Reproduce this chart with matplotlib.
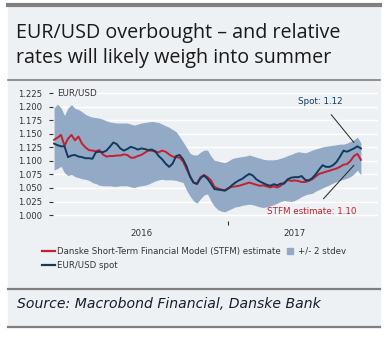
import numpy as np
import pandas as pd
import matplotlib
matplotlib.use("Agg")
import matplotlib.pyplot as plt
import matplotlib.dates as mdates
from matplotlib.lines import Line2D
from matplotlib.patches import Rectangle

# --- data (every 4th day, mid-June 2016 to early June 2017) ---
dates = pd.date_range("2016-06-15", periods=89, freq="4D")

spot = [1.132, 1.129, 1.127, 1.127, 1.107, 1.110, 1.111, 1.108, 1.107, 1.105,
        1.105, 1.104, 1.116, 1.117, 1.116, 1.119, 1.126, 1.134, 1.131, 1.123,
        1.119, 1.122, 1.126, 1.124, 1.121, 1.123, 1.122, 1.120, 1.121, 1.118,
        1.109, 1.103, 1.095, 1.089, 1.095, 1.109, 1.111, 1.103, 1.090, 1.071,
        1.060, 1.058,
        1.068, 1.073, 1.067, 1.058, 1.048, 1.047, 1.046, 1.045, 1.049, 1.055,
        1.060, 1.064, 1.067, 1.072, 1.076, 1.073, 1.066, 1.062, 1.059, 1.056,
        1.054, 1.057, 1.055, 1.058, 1.058, 1.066, 1.069, 1.070, 1.070, 1.072,
        1.065, 1.064, 1.068, 1.075, 1.084, 1.092, 1.089, 1.089, 1.092, 1.098,
        1.108, 1.119, 1.117, 1.120, 1.123, 1.127, 1.123]

stfm = [1.139, 1.143, 1.148, 1.128, 1.141, 1.148, 1.138, 1.145, 1.132, 1.125,
        1.120, 1.119, 1.118, 1.120, 1.112, 1.108, 1.109, 1.109, 1.110, 1.110,
        1.112, 1.111, 1.106, 1.106, 1.109, 1.111, 1.115, 1.119, 1.119, 1.117,
        1.116, 1.119, 1.117, 1.112, 1.108, 1.107, 1.106, 1.099, 1.085, 1.072,
        1.060, 1.057,
        1.070, 1.074, 1.070, 1.064, 1.052, 1.049, 1.047, 1.046, 1.050, 1.052,
        1.053, 1.054, 1.056, 1.058, 1.060, 1.058, 1.056, 1.054, 1.055, 1.053,
        1.051, 1.053, 1.051, 1.054, 1.060, 1.065, 1.063, 1.064, 1.063, 1.061,
        1.061, 1.063, 1.066, 1.071, 1.076, 1.078, 1.080, 1.082, 1.084, 1.086,
        1.089, 1.093, 1.094, 1.100, 1.109, 1.113, 1.102]

upper = [1.198, 1.205, 1.198, 1.184, 1.198, 1.204, 1.197, 1.195, 1.191, 1.186,
         1.183, 1.181, 1.180, 1.179, 1.177, 1.174, 1.172, 1.171, 1.170, 1.170,
         1.170, 1.170, 1.168, 1.166, 1.168, 1.170, 1.171, 1.172, 1.173, 1.172,
         1.171, 1.168, 1.165, 1.162, 1.158, 1.154, 1.145, 1.135, 1.125, 1.114,
         1.111, 1.111,
         1.116, 1.120, 1.120, 1.109, 1.101, 1.100, 1.098, 1.097, 1.100, 1.104,
         1.106, 1.107, 1.108, 1.109, 1.111, 1.109, 1.107, 1.105, 1.103, 1.102,
         1.102, 1.102, 1.103, 1.105, 1.107, 1.110, 1.112, 1.115, 1.117, 1.116,
         1.115, 1.117, 1.120, 1.122, 1.124, 1.126, 1.127, 1.128, 1.129, 1.130,
         1.131, 1.131, 1.133, 1.136, 1.139, 1.144, 1.133]

lower = [1.083, 1.086, 1.090, 1.078, 1.073, 1.075, 1.071, 1.069, 1.067, 1.066,
         1.064, 1.060, 1.058, 1.055, 1.054, 1.054, 1.054, 1.053, 1.053, 1.054,
         1.054, 1.054, 1.052, 1.051, 1.053, 1.054, 1.055, 1.057, 1.060, 1.063,
         1.065, 1.066, 1.065, 1.065, 1.065, 1.064, 1.062, 1.060, 1.046, 1.035,
         1.026, 1.022,
         1.030, 1.037, 1.039, 1.026, 1.016, 1.010, 1.007, 1.006, 1.009, 1.012,
         1.015, 1.016, 1.018, 1.019, 1.020, 1.019, 1.017, 1.015, 1.014, 1.015,
         1.017, 1.019, 1.022, 1.025, 1.027, 1.026, 1.025, 1.027, 1.030, 1.034,
         1.037, 1.039, 1.040, 1.044, 1.047, 1.050, 1.053, 1.056, 1.059, 1.062,
         1.064, 1.066, 1.068, 1.071, 1.076, 1.083, 1.074]

yticks = [1.000, 1.025, 1.050, 1.075, 1.100, 1.125, 1.150, 1.175, 1.200, 1.225]

BG = "#eef1f3"
BLUE = "#123a5e"
RED = "#c61f2d"
BAND = "#92aac5"
GREY = "#808080"

W, H = 392, 337
fig = plt.figure(figsize=(W / 100, H / 100), dpi=100, facecolor="white")

def fx(px):
    return px / W

def fy(py):
    return 1 - py / H

# panel background and rules
fig.patches.append(Rectangle((fx(8), fy(327)), fx(372), 320 / H,
                             transform=fig.transFigure, color=BG, zorder=-5))
for y, lw in [(5, 3.0), (80, 1.2), (289, 1.6), (326.5, 1.6)]:
    fig.lines.append(Line2D([fx(8), fx(380)], [fy(y), fy(y)], transform=fig.transFigure,
                            color=GREY, lw=lw, zorder=1))

fig.text(fx(16), fy(38), "EUR/USD overbought \u2013 and relative",
         family="Open Sans", fontsize=14.2, color="#1a1a1a", va="baseline")
fig.text(fx(16), fy(63), "rates will likely weigh into summer",
         family="Open Sans", fontsize=14.2, color="#1a1a1a", va="baseline")
fig.text(fx(17), fy(308), "Source: Macrobond Financial, Danske Bank",
         family="DejaVu Sans", style="italic", fontsize=10.1, color="#141e2d", va="baseline")

# chart
ax = fig.add_axes([fx(53), fy(221), fx(378 - 53), (221 - 90) / H])
ax.set_facecolor("none")
for s in ax.spines.values():
    s.set_visible(False)

x = mdates.date2num(dates)
ax.fill_between(x, lower, upper, color=BAND, lw=0, zorder=2)
ax.plot(x, stfm, color=RED, lw=1.4, zorder=3)
ax.plot(x, spot, color=BLUE, lw=1.4, zorder=4)

ax.set_ylim(0.989, 1.231)
ax.set_xlim(x[0] - 1.2, x[0] + 371.6)
ax.set_yticks(yticks)
ax.set_yticklabels([f"{v:.3f}" for v in yticks])
ax.grid(axis="y", color="white", lw=1.0, zorder=1)
ax.set_axisbelow(True)
ax.tick_params(axis="y", length=3, width=0.8, color="#333333", labelsize=6.1,
               labelcolor="#333333", pad=4.5)

jan17 = mdates.date2num(pd.Timestamp("2017-01-01"))
ax.set_xticks([jan17])
ax.set_xticklabels([""])
ax.set_xticks([(x[0] + jan17) / 2, (jan17 + x[-1]) / 2], minor=True)
ax.set_xticklabels(["2016", "2017"], minor=True)
ax.tick_params(axis="x", which="major", length=3, width=0.8, color="#333333")
ax.tick_params(axis="x", which="minor", length=0, labelsize=6.3, labelcolor="#333333", pad=6)

ax.text(0.012, 1.225, "EUR/USD", transform=ax.get_yaxis_transform(), fontsize=6.3,
        color="#333333", va="center", ha="left")

ax.annotate("Spot: 1.12", xy=(x[86], 1.134), xytext=(x[0] + 306, 1.209),
            fontsize=6.3, color=BLUE, ha="center", va="center",
            arrowprops=dict(arrowstyle="-", color="#222222", lw=0.7, shrinkA=5, shrinkB=0))
ax.annotate("STFM estimate: 1.10", xy=(x[86], 1.092), xytext=(x[0] + 296, 1.007),
            fontsize=6.3, color=RED, ha="center", va="center",
            arrowprops=dict(arrowstyle="-", color="#222222", lw=0.7, shrinkA=5, shrinkB=0))

handles = [Line2D([], [], color=RED, lw=1.6),
           Line2D([], [], color=BLUE, lw=1.6),
           Line2D([], [], color=BAND, marker="s", ls="none", markersize=4.5)]
labels = ["Danske Short-Term Financial Model (STFM) estimate", "EUR/USD spot", "+/- 2 stdev"]
fig.legend(handles, labels, ncol=2, loc="upper left", bbox_to_anchor=(fx(42), fy(247)),
           frameon=False, fontsize=6.2, handlelength=1.5, handletextpad=0.25,
           columnspacing=0.3, labelspacing=0.6, borderpad=0, borderaxespad=0,
           labelcolor="#333333")

fig.savefig("out.png", dpi=100, facecolor="white")
